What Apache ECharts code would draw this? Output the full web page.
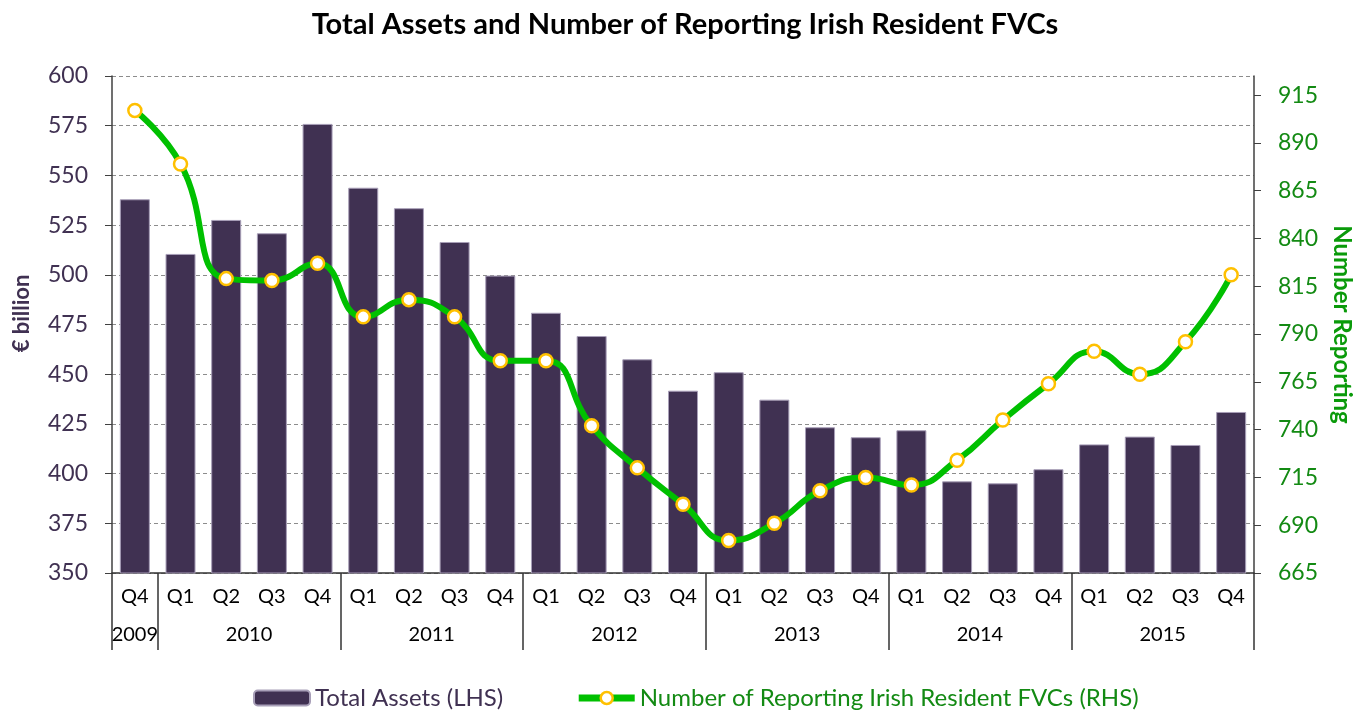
<!DOCTYPE html>
<html>
<head>
<meta charset="utf-8">
<script src="https://cdn.jsdelivr.net/npm/echarts@6/dist/echarts.min.js"></script>
<style>
  html, body { margin: 0; padding: 0; background: #fff; }
  #chart { width: 1370px; height: 713px; }
</style>
</head>
<body>
<div id="chart"></div>
<script>
// quarters on the axis, and the year row under them
const quarters = [
  "Q4",
  "Q1", "Q2", "Q3", "Q4",
  "Q1", "Q2", "Q3", "Q4",
  "Q1", "Q2", "Q3", "Q4",
  "Q1", "Q2", "Q3", "Q4",
  "Q1", "Q2", "Q3", "Q4",
  "Q1", "Q2", "Q3", "Q4",
];
const years = ["2009", "2010", "2011", "2012", "2013", "2014", "2015"];
const quartersPerYear = [1, 4, 4, 4, 4, 4, 4];

// € billion (LHS)
const totalAssets = [
  538, 510.5, 527.6, 520.9, 575.9, 543.8, 533.5, 516.5, 499.6, 480.9, 469.2,
  457.5, 441.7, 451, 437.2, 423.3, 418.3, 421.8, 396.1, 395.1, 402.2, 414.7,
  418.6, 414.4, 431,
];
// number reporting (RHS)
const reportingFVCs = [
  907, 879, 819, 818, 827, 799, 808, 799, 776, 776, 742, 720, 701, 682, 691,
  708, 715, 711, 724, 745, 764, 781, 769, 786, 821,
];

const leftTicks = [350, 375, 400, 425, 450, 475, 500, 525, 550, 575, 600];
const rightTicks = [665, 690, 715, 740, 765, 790, 815, 840, 865, 890, 915];

const FONT = "Lato";
const PURPLE = "#403152";
const GREEN_TEXT = "#138a13";
const LINE_GREEN = "#00c000";

// year boundaries + label centres along a 0..n value axis
const bounds = [0];
quartersPerYear.forEach((n) => bounds.push(bounds[bounds.length - 1] + n));
const yearCentres = years.map((_, i) => (bounds[i] + bounds[i + 1]) / 2);

const myChart = echarts.init(document.getElementById("chart"));

const option = {
  animation: false,
  title: {
    text: "Total Assets and Number of Reporting Irish Resident FVCs",
    left: "center",
    top: 5,
    textStyle: {
      fontFamily: FONT,
      fontSize: 29,
      fontWeight: "bold",
      color: "#000",
    },
  },
  grid: {
    left: 112,
    right: 116,
    top: 76,
    bottom: 140,
  },
  legend: {
    top: 681,
    left: 248,
    itemWidth: 56,
    itemHeight: 15,
    itemGap: 72,
    textStyle: { fontFamily: FONT, fontSize: 24 },
    data: [
      {
        name: "Total Assets (LHS)",
        textStyle: { color: PURPLE },
      },
      {
        name: "Number of Reporting Irish Resident FVCs (RHS)",
        textStyle: { color: GREEN_TEXT },
        lineStyle: { color: LINE_GREEN, width: 7 },
        itemStyle: { color: "#fff", borderColor: "#ffc000", borderWidth: 2.5 },
      },
    ],
  },
  xAxis: [
    {
      type: "category",
      data: quarters,
      axisLine: { lineStyle: { color: "#333", width: 1.5 } },
      axisTick: { show: false },
      axisLabel: {
        fontFamily: FONT,
        fontSize: 20,
        color: "#000",
        margin: 14,
        interval: 0,
      },
    },
    {
      type: "value",
      position: "bottom",
      min: 0,
      max: bounds[bounds.length - 1],
      axisLine: { show: false },
      splitLine: { show: false },
      axisTick: {
        show: true,
        customValues: bounds,
        length: 77,
        lineStyle: { color: "#333", width: 1.5 },
      },
      axisLabel: {
        customValues: yearCentres,
        fontFamily: FONT,
        fontSize: 20,
        color: "#000",
        margin: 52,
        formatter(val) {
          const i = yearCentres.indexOf(val);
          return i >= 0 ? years[i] : "";
        },
      },
    },
  ],
  yAxis: [
    {
      type: "value",
      min: leftTicks[0],
      max: leftTicks[leftTicks.length - 1],
      interval: 25,
      name: "€ billion",
      nameLocation: "middle",
      nameRotate: 90,
      nameGap: 79,
      nameTextStyle: {
        fontFamily: FONT,
        fontSize: 22,
        fontWeight: "bold",
        color: PURPLE,
        // sits a little above centre in the original
        padding: [0, 0, 0, 22],
      },
      axisLine: { show: true, lineStyle: { color: "#404040", width: 1.5 } },
      axisTick: { show: true, length: 7, lineStyle: { color: "#404040" } },
      axisLabel: {
        fontFamily: FONT,
        fontSize: 23,
        color: PURPLE,
        margin: 24,
      },
      splitLine: {
        show: true,
        lineStyle: { color: "#8c8c8c", type: [4, 3], width: 1 },
      },
    },
    {
      type: "value",
      position: "right",
      min: rightTicks[0],
      max: 925,
      name: "Number Reporting",
      nameLocation: "middle",
      nameRotate: -90,
      nameGap: 76,
      nameTextStyle: {
        fontFamily: FONT,
        fontSize: 24,
        fontWeight: "bold",
        color: "#0a9a0a",
      },
      axisLine: { show: true, lineStyle: { color: "#404040", width: 1.5 } },
      axisTick: {
        show: true,
        length: 7,
        customValues: rightTicks,
        lineStyle: { color: "#404040" },
      },
      axisLabel: {
        customValues: rightTicks,
        fontFamily: FONT,
        fontSize: 23,
        color: GREEN_TEXT,
        margin: 24,
      },
      splitLine: { show: false },
    },
  ],
  series: [
    {
      name: "Total Assets (LHS)",
      type: "bar",
      xAxisIndex: 0,
      yAxisIndex: 0,
      barWidth: 30,
      itemStyle: {
        color: PURPLE,
        borderColor: "#a89fb8",
        borderWidth: 1,
      },
      data: totalAssets,
    },
    {
      name: "Number of Reporting Irish Resident FVCs (RHS)",
      type: "line",
      xAxisIndex: 0,
      yAxisIndex: 1,
      smooth: 0.5,
      symbol: "circle",
      symbolSize: 13,
      z: 5,
      lineStyle: { color: LINE_GREEN, width: 6 },
      itemStyle: {
        color: "#fff",
        borderColor: "#ffc000",
        borderWidth: 2.5,
      },
      data: reportingFVCs,
    },
  ],
};

myChart.setOption(option);
</script>
</body>
</html>
